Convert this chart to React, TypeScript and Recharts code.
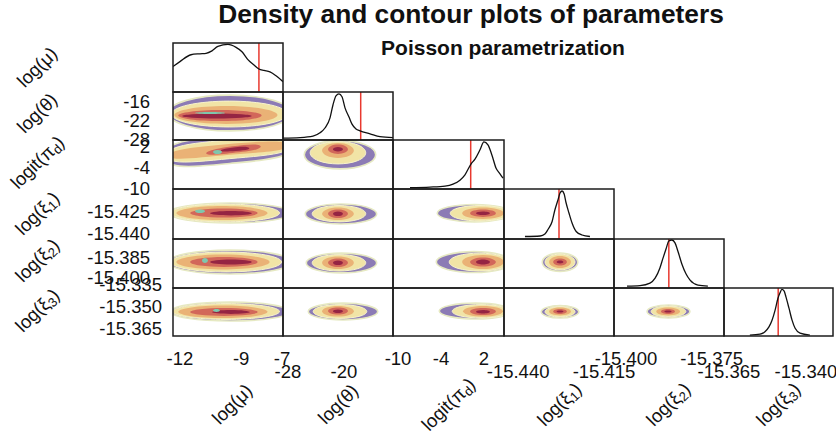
import React from 'react'
import { ScatterChart, Scatter, LineChart, Line, XAxis, YAxis, ReferenceLine, Curve } from 'recharts'

const FONT = '"Liberation Sans", Arial, Helvetica, sans-serif'

// order of the parameters in the pairs matrix
const PARAMS = ['mu', 'theta', 'pid', 'xi1', 'xi2', 'xi3']
const LABELS = [
  { fn: 'log', sym: 'μ', sub: '' },
  { fn: 'log', sym: 'θ', sub: '' },
  { fn: 'logit', sym: 'π', sub: 'd' },
  { fn: 'log', sym: 'ξ', sub: '1' },
  { fn: 'log', sym: 'ξ', sub: '2' },
  { fn: 'log', sym: 'ξ', sub: '3' },
]

// axis ranges (x = column variable, y = row variable)
const X_RANGE: Record<string, number[]> = {
  mu: [-12.34, -6.95],
  theta: [-28.7, -13.0],
  pid: [-10.7, 4.8],
  xi1: [-15.4441, -15.4121],
  xi2: [-15.4035, -15.3714],
  xi3: [-15.3666, -15.3312],
}
const Y_RANGE: Record<string, number[]> = {
  theta: [-28.3, -13.0],
  pid: [-10.14, 3.8],
  xi1: [-15.4437, -15.4097],
  xi2: [-15.4077, -15.3718],
  xi3: [-15.3705, -15.3374],
}
const X_TICKS: Record<string, number[]> = {
  mu: [-12, -9, -7],
  theta: [-28, -20],
  pid: [-10, -4, 2],
  xi1: [-15.44, -15.415],
  xi2: [-15.4, -15.375],
  xi3: [-15.365, -15.34],
}
const Y_TICKS: Record<string, number[]> = {
  theta: [-16, -22, -28],
  pid: [2, -4, -10],
  xi1: [-15.425, -15.44],
  xi2: [-15.385, -15.4],
  xi3: [-15.335, -15.35, -15.365],
}
const DECIMALS: Record<string, number> = { mu: 0, theta: 0, pid: 0, xi1: 3, xi2: 3, xi3: 3 }

// true parameter values (red lines)
const TRUE_VALUE: Record<string, number> = {
  mu: -8.13,
  theta: -17.61,
  pid: 0.15,
  xi1: -15.4281,
  xi2: -15.3875,
  xi3: -15.349,
}

// marginal posterior densities (scaled to peak ~1)
const MU_GRID = [-12.34, -12.0, -11.46, -11.02, -10.72, -10.43, -10.14, -9.65, -9.25, -8.96, -8.67, -8.37, -8.13, -7.88, -7.59, -7.29, -6.95]
const MU_DENS = [0.52, 0.62, 0.76, 0.78, 0.79, 0.84, 0.93, 0.97, 0.91, 0.82, 0.66, 0.55, 0.47, 0.44, 0.41, 0.33, 0.21]
const THETA_GRID = [-28.7, -26.27, -24.42, -23.42, -22.71, -21.99, -21.57, -21.14, -20.71, -20.28, -19.85, -19.28, -18.85, -18.28, -17.71, -16.28, -14.86, -13.0]
const THETA_DENS = [0.04, 0.05, 0.08, 0.15, 0.25, 0.46, 0.73, 0.92, 0.96, 0.9, 0.67, 0.48, 0.33, 0.23, 0.19, 0.13, 0.07, 0.05]
const PID_GRID = [-8.33, -5.53, -3.44, -2.32, -1.35, -0.65, 0.19, 0.75, 1.45, 2.0, 2.56, 3.12, 3.68, 4.24, 4.66]
const PID_DENS = [0.03, 0.04, 0.06, 0.1, 0.18, 0.29, 0.51, 0.61, 0.8, 0.96, 0.9, 0.69, 0.43, 0.31, 0.22]
const XI1_GRID = [-15.438, -15.4336, -15.4322, -15.4313, -15.4301, -15.4293, -15.4284, -15.4278, -15.4272, -15.4266, -15.4261, -15.4252, -15.4243, -15.4231, -15.4214, -15.4191]
const XI1_DENS = [0.05, 0.06, 0.1, 0.19, 0.35, 0.58, 0.78, 0.92, 0.96, 0.9, 0.74, 0.52, 0.32, 0.15, 0.08, 0.05]
const XI2_GRID = [-15.3997, -15.3959, -15.393, -15.3915, -15.3901, -15.3892, -15.3883, -15.3875, -15.3866, -15.3857, -15.3848, -15.3837, -15.3825, -15.3813, -15.379, -15.3761]
const XI2_DENS = [0.04, 0.05, 0.1, 0.2, 0.41, 0.61, 0.8, 0.96, 0.98, 0.92, 0.74, 0.49, 0.29, 0.16, 0.06, 0.04]
const XI3_GRID = [-15.3582, -15.3549, -15.3533, -15.352, -15.351, -15.35, -15.3491, -15.3484, -15.3478, -15.3471, -15.3465, -15.3455, -15.3445, -15.3435, -15.3419, -15.3387]
const XI3_DENS = [0.02, 0.04, 0.09, 0.19, 0.33, 0.54, 0.78, 0.9, 0.97, 0.94, 0.82, 0.58, 0.33, 0.16, 0.06, 0.02]

const DENSITY: Record<string, number[][]> = {
  mu: [MU_GRID, MU_DENS],
  theta: [THETA_GRID, THETA_DENS],
  pid: [PID_GRID, PID_DENS],
  xi1: [XI1_GRID, XI1_DENS],
  xi2: [XI2_GRID, XI2_DENS],
  xi3: [XI3_GRID, XI3_DENS],
}

// 2D contour levels, outermost first: [xLow, xHigh, yLow, yHigh]
const THETA_MU = [[-12.59, -6.51, -25.44, -13.96], [-12.44, -6.71, -24.17, -15.87], [-12.29, -7.2, -23.21, -17.47], [-12.1, -7.98, -22.25, -18.74], [-11.9, -8.47, -21.45, -19.86]]
const XI1_MU = [[-12.59, -6.51, -15.4328, -15.4192], [-12.49, -7.1, -15.4321, -15.4199], [-12.19, -7.69, -15.4308, -15.4213], [-11.51, -8.18, -15.4291, -15.423], [-10.53, -8.47, -15.4277, -15.4247]]
const XI2_MU = [[-12.59, -6.51, -15.3975, -15.3799], [-12.49, -7.0, -15.396, -15.3813], [-12.19, -7.59, -15.3942, -15.3832], [-11.51, -8.18, -15.3923, -15.385], [-10.53, -8.47, -15.3905, -15.3868]]
const XI3_MU = [[-12.49, -6.61, -15.3602, -15.3471], [-12.39, -7.1, -15.3591, -15.3481], [-12.1, -7.69, -15.3581, -15.3495], [-11.51, -8.18, -15.3567, -15.3512], [-10.43, -8.57, -15.3553, -15.3526]]
const PID_THETA = [[-25.7, -15.43, -4.45, 3.66], [-24.85, -16.86, -3.03, 3.37], [-23.14, -18.57, -1.32, 2.95], [-22.28, -19.42, -0.18, 2.52], [-21.57, -20.14, 0.53, 1.81]]
const XI1_THETA = [[-25.56, -15.29, -15.4335, -15.4199], [-24.56, -16.86, -15.4321, -15.4209], [-23.14, -18.57, -15.4308, -15.4223], [-22.28, -19.42, -15.4294, -15.4236], [-21.57, -20.14, -15.4281, -15.425]]
const XI2_THETA = [[-25.42, -15.29, -15.3967, -15.3821], [-24.56, -16.86, -15.3953, -15.3832], [-23.14, -18.57, -15.3938, -15.3846], [-22.28, -19.42, -15.3923, -15.3861], [-21.57, -20.14, -15.3909, -15.3876]]
const XI3_THETA = [[-25.13, -15.14, -15.3595, -15.3478], [-24.42, -16.71, -15.3584, -15.3488], [-23.14, -18.57, -15.3571, -15.3498], [-22.28, -19.42, -15.3557, -15.3509], [-21.57, -20.14, -15.3547, -15.3522]]
const XI1_PID = [[-4.56, 5.91, -15.4321, -15.4202], [-2.74, 5.63, -15.4315, -15.4209], [-1.07, 4.8, -15.4301, -15.4223], [0.05, 3.68, -15.4287, -15.4236], [0.89, 2.84, -15.4274, -15.425]]
const XI2_PID = [[-4.7, 5.91, -15.3964, -15.381], [-2.88, 5.63, -15.3953, -15.3821], [-1.07, 4.8, -15.3938, -15.3835], [0.05, 3.68, -15.392, -15.3854], [0.89, 2.84, -15.3905, -15.3868]]
const XI3_PID = [[-4.28, 5.91, -15.3588, -15.3478], [-2.46, 5.63, -15.3581, -15.3488], [-0.93, 4.66, -15.3571, -15.3498], [0.05, 3.68, -15.356, -15.3512], [0.89, 2.84, -15.355, -15.3526]]
const XI2_XI1 = [[-15.433, -15.4226, -15.3956, -15.3821], [-15.4322, -15.4234, -15.3945, -15.3828], [-15.431, -15.4246, -15.3931, -15.3843], [-15.4298, -15.4258, -15.3912, -15.3861], [-15.4288, -15.4268, -15.3898, -15.3876]]
const XI3_XI1 = [[-15.4333, -15.4223, -15.3581, -15.3495], [-15.4322, -15.4234, -15.3574, -15.3502], [-15.431, -15.4246, -15.3564, -15.3509], [-15.4298, -15.4258, -15.3553, -15.3519], [-15.4288, -15.4268, -15.3543, -15.3529]]
const XI3_XI2 = [[-15.3939, -15.3813, -15.3581, -15.3491], [-15.3927, -15.3825, -15.3574, -15.3498], [-15.3912, -15.3842, -15.3564, -15.3509], [-15.3898, -15.3857, -15.3553, -15.3519], [-15.3888, -15.3867, -15.3543, -15.3529]]

// the tilted logit(pi_d) vs log(mu) band, as outlines
const PID_MU = [
  [[-12.9, 3.23], [-10.04, 4.94], [-6.3, 5.79], [-6.3, -1.32], [-9.55, -2.74], [-12.9, -5.02]],
  [[-12.8, 2.09], [-9.79, 3.8], [-6.4, 4.94], [-6.4, -0.18], [-9.55, -1.32], [-12.8, -3.6]],
  [[-12.7, 0.96], [-9.79, 2.66], [-6.5, 4.09], [-6.5, 0.67], [-9.55, -0.18], [-12.7, -2.46]],
  [[-10.77, 0.67], [-9.45, 2.09], [-7.98, 2.95], [-7.98, 0.96], [-9.45, 0.1], [-10.77, -0.75]],
  [[-10.04, 1.1], [-9.25, 1.81], [-8.57, 1.95], [-8.57, 0.96], [-9.25, 0.67], [-10.04, 0.39]],
]

// small teal patches inside the log(mu) contours
const TEAL_THETA_MU = [-11.26, -9.79, -20.02, -19.38]
const TEAL_PID_MU = [-10.38, -9.94, -0.18, 0.96]
const TEAL_XI1_MU = [-11.26, -10.77, -15.426, -15.4236]
const TEAL_XI2_MU = [-10.92, -10.63, -15.3894, -15.3857]
const TEAL_XI3_MU = [-10.38, -10.04, -15.354, -15.3519]

const LEVEL_COLORS = ['#8c7bb5', '#f1e4a6', '#eab276', '#d2675a', '#952443']
const TEAL = '#7fc6ad'

const PANELS = [
  { r: 1, c: 0, boxes: THETA_MU, teal: TEAL_THETA_MU },
  { r: 2, c: 0, polys: PID_MU, teal: TEAL_PID_MU },
  { r: 3, c: 0, boxes: XI1_MU, teal: TEAL_XI1_MU },
  { r: 4, c: 0, boxes: XI2_MU, teal: TEAL_XI2_MU },
  { r: 5, c: 0, boxes: XI3_MU, teal: TEAL_XI3_MU },
  { r: 2, c: 1, boxes: PID_THETA },
  { r: 3, c: 1, boxes: XI1_THETA },
  { r: 4, c: 1, boxes: XI2_THETA },
  { r: 5, c: 1, boxes: XI3_THETA },
  { r: 3, c: 2, boxes: XI1_PID },
  { r: 4, c: 2, boxes: XI2_PID },
  { r: 5, c: 2, boxes: XI3_PID },
  { r: 4, c: 3, boxes: XI2_XI1 },
  { r: 5, c: 3, boxes: XI3_XI1 },
  { r: 5, c: 4, boxes: XI3_XI2 },
]

// layout (pixels)
const COL_EDGES = [173, 283, 393, 504, 614, 724, 833]
const ROW_EDGES = [43, 92, 140, 189, 239, 288, 336]
const LEFT_LABEL_Y = [67, 113, 162, 213, 260, 310]
const BOTTOM_LABEL_X = [232, 338, 448, 559, 668, 778]
const AXIS_PAD = 1 // axes need a non-zero size to draw their ticks

// octagon outline of a contour box; basis spline pulls it in ~10%, so pad a bit
const ROUND = [[1, 0], [0.707, 0.707], [0, 1], [-0.707, 0.707], [-1, 0], [-0.707, -0.707], [0, -1], [0.707, -0.707]]
const boxOutline = (b: number[]) => {
  const cx = (b[0] + b[1]) / 2
  const cy = (b[2] + b[3]) / 2
  const rx = ((b[1] - b[0]) / 2) * 1.1
  const ry = ((b[3] - b[2]) / 2) * 1.1
  return ROUND.map(([a, c]) => ({ x: cx + a * rx, y: cy + c * ry }))
}
const polyOutline = (p: number[][]) => p.map(([x, y]) => ({ x, y }))

const NoDot = () => <g />
const filledLine = (fill: string, stroke = 'none', strokeWidth = 0) => (props: any) => (
  <Curve points={props.points} type="basisClosed" fill={fill} stroke={stroke} strokeWidth={strokeWidth} />
)

const fmt = (key: string, v: number) => v.toFixed(DECIMALS[key])

const xTick = (col: number) => (p: any) => (
  <text x={p.x} y={p.y + (col % 2 === 0 ? 28.5 : 41.5)} textAnchor="middle" fontSize={18.5} fontFamily={FONT} fill="#111">
    {fmt(PARAMS[col], p.payload.value)}
  </text>
)
const yTick = (row: number) => (p: any) => (
  <text x={p.x - (row === 5 ? 11 : 23)} y={p.y + 6.5} textAnchor="end" fontSize={18.5} fontFamily={FONT} fill="#111">
    {fmt(PARAMS[row], p.payload.value)}
  </text>
)

const cellBox = (r: number, c: number) => ({
  left: COL_EDGES[c],
  top: ROW_EDGES[r],
  w: COL_EDGES[c + 1] - COL_EDGES[c],
  h: ROW_EDGES[r + 1] - ROW_EDGES[r],
})

const ZERO = { top: 0, right: 0, bottom: 0, left: 0 }

function xAxisFor(key: string, col: number, show: boolean) {
  return (
    <XAxis
      type="number"
      dataKey="x"
      domain={X_RANGE[key]}
      allowDataOverflow
      hide={!show}
      height={AXIS_PAD}
      ticks={X_TICKS[key]}
      interval={0}
      tick={xTick(col)}
      axisLine={false}
      tickLine={false}
      tickSize={0}
      tickMargin={0}
    />
  )
}

function ContourPanel({ r, c, boxes, polys, teal }: any) {
  const { left, top, w, h } = cellBox(r, c)
  const xKey = PARAMS[c]
  const yKey = PARAMS[r]
  const showX = r === 5
  const showY = c === 0
  const outlines = boxes ? boxes.map(boxOutline) : polys.map(polyOutline)
  return (
    <div style={{ position: 'absolute', left: left - (showY ? AXIS_PAD : 0), top }}>
      <ScatterChart width={w + (showY ? AXIS_PAD : 0)} height={h + (showX ? AXIS_PAD : 0)} margin={ZERO}>
        {xAxisFor(xKey, c, showX)}
        <YAxis
          type="number"
          dataKey="y"
          domain={Y_RANGE[yKey]}
          allowDataOverflow
          hide={!showY}
          width={AXIS_PAD}
          ticks={Y_TICKS[yKey]}
          interval={0}
          tick={yTick(r)}
          axisLine={false}
          tickLine={false}
          tickSize={0}
          tickMargin={0}
        />
        {outlines.map((pts: any, i: number) => (
          <Scatter
            key={i}
            data={pts}
            shape={NoDot}
            line={i === 0 ? filledLine(LEVEL_COLORS[i], '#e6e9c2', 1.6) : i === 1 ? filledLine(LEVEL_COLORS[i], '#f7f3cc', 1) : filledLine(LEVEL_COLORS[i])}
            lineJointType="basisClosed"
            isAnimationActive={false}
          />
        ))}
        {teal && (
          <Scatter data={boxOutline(teal)} shape={NoDot} line={filledLine(TEAL)} lineJointType="basisClosed" isAnimationActive={false} />
        )}
      </ScatterChart>
    </div>
  )
}

function DensityPanel({ i }: { i: number }) {
  const { left, top, w, h } = cellBox(i, i)
  const key = PARAMS[i]
  const [grid, dens] = DENSITY[key]
  const data = grid.map((x, j) => ({ x, d: dens[j] }))
  const showX = i === 5
  return (
    <div style={{ position: 'absolute', left, top }}>
      <LineChart width={w} height={h + (showX ? AXIS_PAD : 0)} data={data} margin={ZERO}>
        {xAxisFor(key, i, showX)}
        <YAxis type="number" domain={[0, 1]} allowDataOverflow hide />
        <ReferenceLine x={TRUE_VALUE[key]} stroke="#e8392f" strokeWidth={1.5} />
        <Line dataKey="d" type="monotone" stroke="#111" strokeWidth={1.3} dot={false} isAnimationActive={false} />
      </LineChart>
    </div>
  )
}

function VarLabel({ x, y, label }: any) {
  return (
    <text
      x={x}
      y={y}
      transform={`rotate(-45 ${x} ${y})`}
      textAnchor="middle"
      dominantBaseline="central"
      fontSize={18.5}
      fontFamily={FONT}
      fill="#111"
    >
      {label.fn}(<tspan>{label.sym}</tspan>
      {label.sub ? (
        <>
          <tspan dy={5} fontSize={13}>{label.sub}</tspan>
          <tspan dy={-5}>)</tspan>
        </>
      ) : (
        ')'
      )}
    </text>
  )
}

export default function App() {
  return (
    <div style={{ position: 'absolute', left: 0, top: 0, width: 836, height: 431, background: '#fff', overflow: 'hidden', fontFamily: FONT }}>
      <style>{`.recharts-surface{overflow:visible}`}</style>
      {PARAMS.map((_, i) => (
        <DensityPanel key={`d${i}`} i={i} />
      ))}
      {PANELS.map((p) => (
        <ContourPanel key={`p${p.r}${p.c}`} {...p} />
      ))}
      <svg width={836} height={431} style={{ position: 'absolute', left: 0, top: 0, pointerEvents: 'none' }}>
        <text x={471} y={23} textAnchor="middle" fontSize={26.3} fontWeight="bold" fontFamily={FONT} fill="#111">
          Density and contour plots of parameters
        </text>
        <text x={503} y={55} textAnchor="middle" fontSize={21} fontWeight="bold" fontFamily={FONT} fill="#111">
          Poisson parametrization
        </text>
        {PARAMS.map((_, r) =>
          PARAMS.slice(0, r + 1).map((__, c) => {
            const { left, top, w, h } = cellBox(r, c)
            return <rect key={`b${r}${c}`} x={left} y={top} width={w} height={h} fill="none" stroke="#1c1c1c" strokeWidth={1.5} />
          })
        )}
        {LABELS.map((lab, i) => (
          <VarLabel key={`l${i}`} x={37} y={LEFT_LABEL_Y[i]} label={lab} />
        ))}
        {LABELS.map((lab, i) => (
          <VarLabel key={`bl${i}`} x={BOTTOM_LABEL_X[i]} y={404} label={lab} />
        ))}
      </svg>
    </div>
  )
}
